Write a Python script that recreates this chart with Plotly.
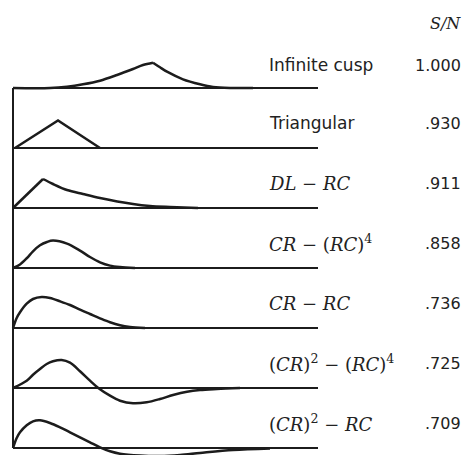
import numpy as np
import plotly.graph_objects as go

# ---- data (time in px-like units from the vertical axis, amplitude in same units) ----
labels = ["Infinite cusp", "Triangular", "<i>DL</i> − <i>RC</i>", "<i>CR</i> − (<i>RC</i>)<sup>4</sup>",
          "<i>CR</i> − <i>RC</i>", "(<i>CR</i>)<sup>2</sup> − (<i>RC</i>)<sup>4</sup>", "(<i>CR</i>)<sup>2</sup> − <i>RC</i>"]
label_is_math = [False, False, True, True, True, True, True]
sn_values = ["1.000", ".930", ".911", ".858", ".736", ".725", ".709"]

# each pulse is a list of segments; segments meet at sharp corners
cusp_left_t = [0, 37, 54, 70, 87, 104, 120, 130, 140]
cusp_left_a = [0, 0, 1.3, 3.7, 7.3, 13, 19, 23, 25.3]
cusp_right_t = [140, 147, 154, 170, 187, 200, 217, 240]
cusp_right_a = [25.3, 20.7, 16.3, 8.7, 3.7, 1, 0, 0]

tri_t = [2, 45, 87]
tri_a = [0, 27.5, 0]

dlrc_rise_t = [0, 30]
dlrc_rise_a = [0, 29]
dlrc_decay_t = [30, 40, 54, 70, 87, 120, 137, 157, 185]
dlrc_decay_a = [29, 24, 18, 14, 10, 4, 2, 1, 0]

crrc4_t = [0, 7, 14, 20, 27, 34, 40, 54, 67, 77, 87, 97, 107, 122]
crrc4_a = [0, 3.5, 10, 16.7, 22.7, 26, 27.4, 24.4, 17.4, 11, 5.7, 2.4, 1, 0]

crrc_t = [0, 3.7, 7, 13.7, 20, 28.7, 37, 47, 57, 67, 77, 87, 97, 107, 117, 132]
crrc_a = [0, 10, 15.7, 24.3, 29, 31, 30, 26.7, 23, 18.3, 14, 9.7, 5.7, 2.7, 1, 0]

cr2rc4_t = [0, 13.7, 20, 27, 33.7, 40, 48.7, 57, 67, 77, 85.3, 97, 107, 120, 133.7, 147, 160, 174, 187, 204, 227]
cr2rc4_a = [0, 7.3, 13.3, 19, 24, 26.7, 28, 25.3, 16.7, 7.3, 0, -7.7, -12.7, -15.3, -14.3, -11, -7, -3.7, -2, -1, 0]

cr2rc_t = [0, 3.7, 7, 13.7, 20, 27, 37, 47, 57, 67, 77, 87, 97, 107, 127, 147, 167, 187, 220, 257]
cr2rc_a = [0, 10, 15.7, 22.7, 26.7, 27.7, 25, 20.7, 15.7, 10.7, 5.7, 0.7, -3.3, -5.7, -7.5, -8, -7, -5, -2, -0.5]

pulses = [
    [(cusp_left_t, cusp_left_a, "spline"), (cusp_right_t, cusp_right_a, "spline")],
    [(tri_t, tri_a, "linear")],
    [(dlrc_rise_t, dlrc_rise_a, "linear"), (dlrc_decay_t, dlrc_decay_a, "spline")],
    [(crrc4_t, crrc4_a, "spline")],
    [(crrc_t, crrc_a, "spline")],
    [(cr2rc4_t, cr2rc4_a, "spline")],
    [(cr2rc_t, cr2rc_a, "spline")],
]

baseline_end = 305
ROW_GAP = 60
INK = "#1c1c1c"
TEXT = "#222222"

fig = go.Figure()

n = len(pulses)
# vertical axis line
fig.add_trace(go.Scatter(x=[0, 0], y=[0, -(n - 1) * ROW_GAP], mode="lines",
                         line=dict(color=INK, width=2), hoverinfo="skip"))

for i, segs in enumerate(pulses):
    base = -i * ROW_GAP
    fig.add_trace(go.Scatter(x=[0, baseline_end], y=[base, base], mode="lines",
                             line=dict(color=INK, width=1.8), hoverinfo="skip"))
    for t, a, shape in segs:
        fig.add_trace(go.Scatter(x=t, y=np.array(a) + base, mode="lines",
                                 line=dict(color=INK, width=2.5, shape=shape, smoothing=0.9),
                                 hoverinfo="skip"))

annotations = []
for i, (lab, is_math, val) in enumerate(zip(labels, label_is_math, sn_values)):
    base = -i * ROW_GAP
    yl = base + (23 if i == 0 else 25)
    annotations.append(dict(
        x=254, y=yl, xref="x", yref="y", text=lab, showarrow=False,
        xanchor="left", yanchor="middle",
        font=dict(family="DejaVu Serif" if is_math else "DejaVu Sans",
                  size=18 if is_math else 17, color=TEXT)))
    annotations.append(dict(
        x=450, y=yl, xref="x", yref="y", text=val, showarrow=False,
        xanchor="right", yanchor="middle",
        font=dict(family="DejaVu Sans", size=16, color=TEXT)))

annotations.append(dict(x=450, y=65, xref="x", yref="y", text="<i>S/N</i>", showarrow=False,
                        xanchor="right", yanchor="middle",
                        font=dict(family="DejaVu Serif", size=16, color=TEXT)))

fig.update_layout(
    width=469, height=455,
    margin=dict(l=0, r=0, t=0, b=0),
    paper_bgcolor="white", plot_bgcolor="white",
    showlegend=False,
    xaxis=dict(range=[-13, 456], visible=False, fixedrange=True),
    yaxis=dict(range=[-367, 88], visible=False, fixedrange=True),
    annotations=annotations,
)

fig.write_html("out.html", config={"displayModeBar": False},
               post_script="document.body.style.margin='0';document.body.style.overflow='hidden';")
